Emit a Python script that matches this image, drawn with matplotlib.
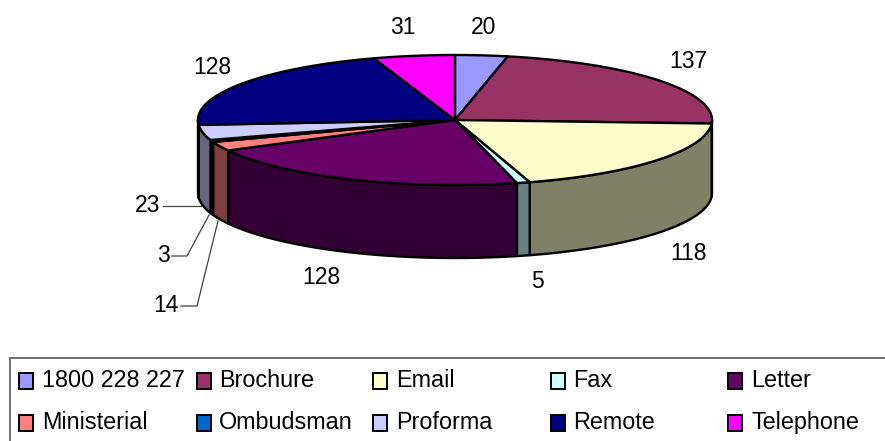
import numpy as np
import matplotlib
matplotlib.use("Agg")
import matplotlib.pyplot as plt
from matplotlib.patches import Polygon, Rectangle

plt.rcParams['font.family'] = ['Liberation Sans', 'DejaVu Sans']

categories = ["1800 228 227", "Brochure", "Email", "Fax", "Letter",
              "Ministerial", "Ombudsman", "Proforma", "Remote", "Telephone"]
values = [20, 137, 118, 5, 128, 14, 3, 23, 128, 31]
top_colors = ["#9999FF", "#993366", "#FFFFCC", "#CCFFFF", "#660066",
              "#FF8080", "#0066CC", "#CCCCFF", "#000080", "#FF00FF"]

CX, CY, RX, RY, DEPTH = 455.0, 120.0, 257.0, 65.0, 73.0
FS = 16.5
FS_LEG = 16.8

fig = plt.figure(figsize=(8.85, 4.41), dpi=100)
ax = fig.add_axes([0, 0, 1, 1])
ax.set_xlim(0, 885)
ax.set_ylim(441, 0)
ax.axis("off")


def ell(theta_deg, dy=0.0):
    t = np.radians(theta_deg)
    return np.column_stack([CX + RX * np.sin(t), CY - RY * np.cos(t) + dy])


def darker(c):
    r, g, b = matplotlib.colors.to_rgb(c)
    return (r * 0.5, g * 0.5, b * 0.5)


cum = np.cumsum([0] + values)
angles = 360.0 * cum / cum[-1]
LW = 1.7

# side walls
for a0, a1, c in zip(angles[:-1], angles[1:], top_colors):
    lo, hi = max(a0, 90.0), min(a1, 270.0)
    if hi <= lo:
        continue
    th = np.linspace(lo, hi, 80)
    pts = np.vstack([ell(th), ell(th[::-1], DEPTH)])
    ax.add_patch(Polygon(pts, closed=True, fc=darker(c), ec="black", lw=LW,
                         joinstyle="round", zorder=2))

# top faces
for a0, a1, c in zip(angles[:-1], angles[1:], top_colors):
    th = np.linspace(a0, a1, 100)
    pts = np.vstack([[CX, CY], ell(th)])
    ax.add_patch(Polygon(pts, closed=True, fc=c, ec="black", lw=LW,
                         joinstyle="round", zorder=3))

# value labels
label_pos = [(484, 28), (688, 61), (688, 253), (537, 282), (321, 278),
             (166, 306), (163.5, 255), (148, 205), (212, 67), (403, 28)]
for v, (x, y) in zip(values, label_pos):
    ax.text(x, y, str(v), fontsize=FS, ha="center", va="center", color="black", zorder=5)

# leader lines
ax.plot([163, 201], [205.5, 205.5], color="#404040", lw=0.9, zorder=1)
ax.plot([172, 187, 209], [256, 256, 215], color="#404040", lw=0.9, zorder=1)
ax.plot([181, 197, 218], [306, 306, 221], color="#404040", lw=0.9, zorder=1)

# legend frame, running off the right and bottom edges of the picture
ax.add_patch(Rectangle((10, 358), 900, 100, fc="white", ec="#707070", lw=1.4, zorder=1))

col_swatch = [19, 197, 373, 551, 728]
col_text = [42, 219, 396, 573, 751]
row_y = [381, 423]
for i, (name, c) in enumerate(zip(categories, top_colors)):
    col, row = i % 5, i // 5
    ax.add_patch(Rectangle((col_swatch[col], row_y[row] - 8), 14, 16, fc=c,
                           ec="black", lw=1.4, zorder=4))
    ax.text(col_text[col], row_y[row] - 0.5, name, fontsize=FS_LEG, ha="left", va="center",
            color="black", zorder=5)

fig.savefig("out.png", dpi=100)
